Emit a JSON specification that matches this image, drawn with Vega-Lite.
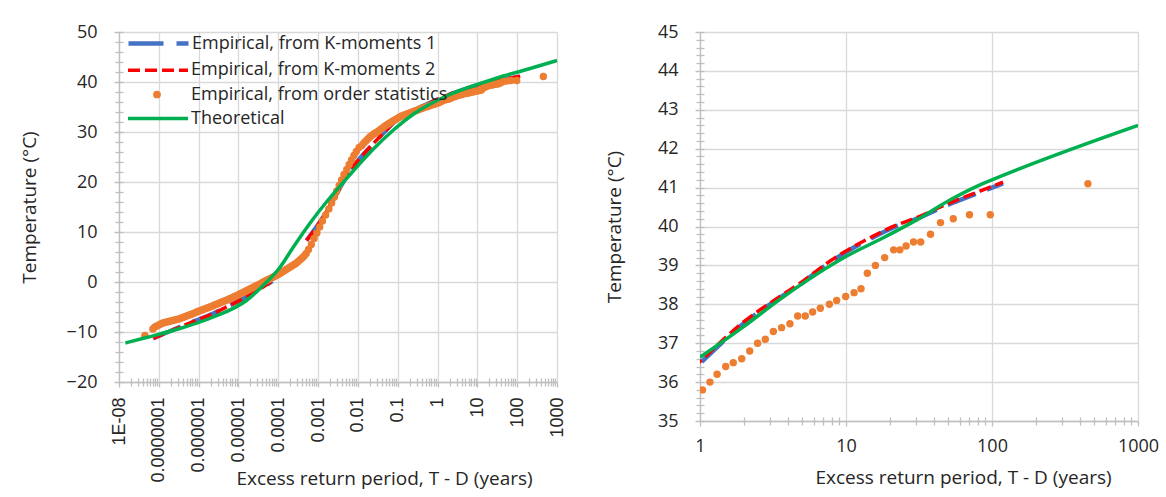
{
"$schema": "https://vega.github.io/schema/vega-lite/v6.json",
"background": "white",
"padding": {"left": 20, "top": 23, "right": 0, "bottom": 0},
"spacing": 39,
"config": {
  "font": "Open Sans",
  "view": {"stroke": null},
  "axis": {"domainColor": "#BFBFBF", "tickColor": "#BFBFBF", "gridColor": "#D9D9D9", "gridWidth": 1.3, "domainWidth": 1.3, "tickWidth": 1.3, "labelFont": "Open Sans", "labelFontSize": 18, "labelColor": "#262626", "titleFont": "Open Sans", "titleFontSize": 19, "titleFontWeight": "normal", "titleColor": "#262626", "labelFlush": false, "labelOverlap": false},
  "legend": {"labelFont": "Open Sans", "labelFontSize": 18, "labelColor": "#262626", "padding": 0, "title": null, "labelLimit": 500}
},
"datasets": {
  "orderStats": [
    {"x":4.47e-8,"y":-10.7},{"x":7.08e-8,"y":-9.4},{"x":7.94e-8,"y":-9.0},{"x":8.91e-8,"y":-8.8},{"x":1e-7,"y":-8.6},{"x":1.122e-7,"y":-8.4},{"x":1.259e-7,"y":-8.2},{"x":1.413e-7,"y":-8.1},{"x":1.585e-7,"y":-8.0},{"x":1.778e-7,"y":-7.9},{"x":1.995e-7,"y":-7.8},{"x":2.239e-7,"y":-7.7},{"x":2.512e-7,"y":-7.6},{"x":2.818e-7,"y":-7.5},{"x":3.162e-7,"y":-7.4},{"x":3.548e-7,"y":-7.25},{"x":3.981e-7,"y":-7.1},{"x":4.467e-7,"y":-6.95},{"x":5.012e-7,"y":-6.8},{"x":5.623e-7,"y":-6.65},{"x":6.31e-7,"y":-6.5},{"x":7.079e-7,"y":-6.35},{"x":7.943e-7,"y":-6.2},{"x":8.913e-7,"y":-6.0},
    {"x":1e-6,"y":-5.85},{"x":1.122e-6,"y":-5.7},{"x":1.259e-6,"y":-5.55},{"x":1.413e-6,"y":-5.4},{"x":1.585e-6,"y":-5.25},{"x":1.778e-6,"y":-5.1},{"x":1.995e-6,"y":-4.95},{"x":2.239e-6,"y":-4.8},{"x":2.512e-6,"y":-4.6},{"x":2.818e-6,"y":-4.45},{"x":3.162e-6,"y":-4.3},{"x":3.548e-6,"y":-4.1},{"x":3.981e-6,"y":-3.95},{"x":4.467e-6,"y":-3.8},{"x":5.012e-6,"y":-3.65},{"x":5.623e-6,"y":-3.45},{"x":6.31e-6,"y":-3.3},{"x":7.079e-6,"y":-3.1},{"x":7.943e-6,"y":-2.9},{"x":8.913e-6,"y":-2.75},
    {"x":1e-5,"y":-2.55},{"x":1.122e-5,"y":-2.35},{"x":1.259e-5,"y":-2.15},{"x":1.413e-5,"y":-1.95},{"x":1.585e-5,"y":-1.75},{"x":1.778e-5,"y":-1.55},{"x":1.995e-5,"y":-1.35},{"x":2.239e-5,"y":-1.15},{"x":2.512e-5,"y":-0.95},{"x":2.818e-5,"y":-0.75},{"x":3.162e-5,"y":-0.55},{"x":3.548e-5,"y":-0.35},{"x":3.981e-5,"y":-0.1},{"x":4.467e-5,"y":0.1},{"x":5.012e-5,"y":0.3},{"x":5.623e-5,"y":0.5},{"x":6.31e-5,"y":0.7},{"x":7.079e-5,"y":0.9},{"x":7.943e-5,"y":1.1},{"x":8.913e-5,"y":1.3},
    {"x":1e-4,"y":1.5},{"x":1.122e-4,"y":1.75},{"x":1.259e-4,"y":2.0},{"x":1.413e-4,"y":2.25},{"x":1.585e-4,"y":2.5},{"x":1.778e-4,"y":2.75},{"x":1.995e-4,"y":3.0},{"x":2.239e-4,"y":3.25},{"x":2.512e-4,"y":3.5},{"x":2.818e-4,"y":3.75},{"x":3.162e-4,"y":4.1},{"x":3.548e-4,"y":4.45},{"x":3.981e-4,"y":4.8},{"x":4.467e-4,"y":5.2},{"x":5.012e-4,"y":5.7},
    {"x":5.754e-4,"y":6.5},{"x":6.761e-4,"y":7.5},{"x":7.943e-4,"y":8.7},{"x":9.333e-4,"y":9.8},{"x":1.096e-3,"y":11.0},{"x":1.288e-3,"y":12.2},{"x":1.549e-3,"y":13.4},{"x":1.862e-3,"y":14.6},{"x":2.188e-3,"y":15.8},{"x":2.57e-3,"y":17.0},{"x":2.951e-3,"y":18.2},{"x":3.388e-3,"y":19.3},{"x":3.89e-3,"y":20.4},{"x":4.467e-3,"y":21.5},{"x":5.248e-3,"y":22.5},{"x":6.026e-3,"y":23.5},{"x":6.918e-3,"y":24.4},{"x":7.943e-3,"y":25.3},{"x":9.12e-3,"y":26.1},
    {"x":1.072e-2,"y":26.9},{"x":1.259e-2,"y":27.3},{"x":1.413e-2,"y":27.8},{"x":1.585e-2,"y":28.2},{"x":1.778e-2,"y":28.6},{"x":1.995e-2,"y":29.0},{"x":2.239e-2,"y":29.3},{"x":2.512e-2,"y":29.6},{"x":2.818e-2,"y":29.85},{"x":3.162e-2,"y":30.1},{"x":3.548e-2,"y":30.4},{"x":3.981e-2,"y":30.7},{"x":4.467e-2,"y":31.0},{"x":5.012e-2,"y":31.3},{"x":5.623e-2,"y":31.55},{"x":6.31e-2,"y":31.8},{"x":7.079e-2,"y":32.05},{"x":7.943e-2,"y":32.3},{"x":8.913e-2,"y":32.5},
    {"x":0.1,"y":32.75},{"x":0.1122,"y":33.0},{"x":0.1259,"y":33.2},{"x":0.1413,"y":33.35},{"x":0.1585,"y":33.5},{"x":0.1778,"y":33.65},{"x":0.1995,"y":33.8},{"x":0.2239,"y":33.95},{"x":0.2512,"y":34.1},{"x":0.2818,"y":34.25},{"x":0.3162,"y":34.4},{"x":0.3548,"y":34.55},{"x":0.3981,"y":34.7},{"x":0.4467,"y":34.85},{"x":0.5012,"y":35.0},{"x":0.5623,"y":35.1},{"x":0.631,"y":35.25},{"x":0.7079,"y":35.4},{"x":0.7943,"y":35.5},{"x":0.8913,"y":35.65},
    {"x":1.04,"y":35.8},{"x":1.17,"y":36.0},{"x":1.31,"y":36.2},{"x":1.5,"y":36.4},{"x":1.69,"y":36.5},{"x":1.93,"y":36.6},{"x":2.19,"y":36.8},{"x":2.48,"y":37.0},{"x":2.8,"y":37.1},{"x":3.18,"y":37.3},{"x":3.62,"y":37.4},{"x":4.13,"y":37.5},{"x":4.67,"y":37.7},{"x":5.26,"y":37.7},{"x":5.91,"y":37.8},{"x":6.67,"y":37.9},{"x":7.69,"y":38.0},{"x":8.63,"y":38.1},{"x":9.95,"y":38.2},{"x":11.35,"y":38.3},{"x":12.67,"y":38.4},{"x":14.0,"y":38.8},{"x":15.9,"y":39.0},{"x":18.4,"y":39.2},{"x":21.2,"y":39.4},{"x":23.4,"y":39.4},{"x":25.8,"y":39.5},{"x":29.0,"y":39.6},{"x":32.5,"y":39.6},{"x":37.9,"y":39.8},{"x":44.4,"y":40.1},{"x":54.3,"y":40.2},{"x":70.1,"y":40.3},{"x":97.3,"y":40.3},{"x":454,"y":41.1}
  ],
  "kMoments1": [
    {"part":"a","x":7.24e-8,"y":-11.3},{"part":"a","x":1.585e-7,"y":-10.1},{"part":"a","x":3.39e-7,"y":-9.0},{"part":"a","x":1e-6,"y":-7.5},{"part":"a","x":2.34e-6,"y":-6.3},{"part":"a","x":6.31e-6,"y":-4.6},{"part":"a","x":1.585e-5,"y":-3.0},{"part":"a","x":4.17e-5,"y":-1.0},{"part":"a","x":7.08e-5,"y":0.2},
    {"part":"b","x":5.13e-4,"y":8.3},{"part":"b","x":1.349e-3,"y":13.0},{"part":"b","x":2.951e-3,"y":17.7},{"part":"b","x":5.754e-3,"y":21.7},{"part":"b","x":1.122e-2,"y":24.7},{"part":"b","x":2.455e-2,"y":27.7},{"part":"b","x":4.365e-2,"y":29.8},{"part":"b","x":0.1,"y":32.6},{"part":"b","x":0.3162,"y":34.7},{"part":"b","x":1,"y":36.48},{"part":"b","x":1.98,"y":37.5},{"part":"b","x":3.53,"y":38.17},{"part":"b","x":5.1,"y":38.57},{"part":"b","x":7.36,"y":39.02},{"part":"b","x":10,"y":39.34},{"part":"b","x":15.5,"y":39.73},{"part":"b","x":21.3,"y":39.98},{"part":"b","x":30.5,"y":40.2},{"part":"b","x":51.5,"y":40.58},{"part":"b","x":82.7,"y":40.88},{"part":"b","x":119,"y":41.11}
  ],
  "kMoments2": [
    {"part":"a","x":7.24e-8,"y":-11.3},{"part":"a","x":1.585e-7,"y":-10.1},{"part":"a","x":3.39e-7,"y":-9.0},{"part":"a","x":1e-6,"y":-7.5},{"part":"a","x":2.34e-6,"y":-6.3},{"part":"a","x":6.31e-6,"y":-4.6},{"part":"a","x":1.585e-5,"y":-3.0},{"part":"a","x":4.17e-5,"y":-1.0},{"part":"a","x":7.08e-5,"y":0.2},
    {"part":"b","x":5.13e-4,"y":8.3},{"part":"b","x":1.349e-3,"y":13.0},{"part":"b","x":2.951e-3,"y":17.7},{"part":"b","x":5.754e-3,"y":21.7},{"part":"b","x":1.122e-2,"y":24.7},{"part":"b","x":2.455e-2,"y":27.7},{"part":"b","x":4.365e-2,"y":29.8},{"part":"b","x":0.1,"y":32.6},{"part":"b","x":0.3162,"y":34.7},{"part":"b","x":1,"y":36.53},{"part":"b","x":1.98,"y":37.54},{"part":"b","x":3.53,"y":38.2},{"part":"b","x":5.1,"y":38.6},{"part":"b","x":7.36,"y":39.05},{"part":"b","x":10,"y":39.37},{"part":"b","x":15.5,"y":39.76},{"part":"b","x":21.3,"y":40.01},{"part":"b","x":30.5,"y":40.23},{"part":"b","x":51.5,"y":40.61},{"part":"b","x":82.7,"y":40.91},{"part":"b","x":119,"y":41.14}
  ],
  "theoreticalLeft": [
    {"x":1.445e-8,"y":-12.2},{"x":4.9e-8,"y":-11.1},{"x":3.39e-7,"y":-9.3},{"x":2.34e-6,"y":-7.0},{"x":1.585e-5,"y":-3.7},{"x":4.17e-5,"y":-0.7},{"x":1.096e-4,"y":2.9},{"x":2.4e-4,"y":7.0},{"x":6.31e-4,"y":11.8},{"x":1.62e-3,"y":16.0},{"x":4.27e-3,"y":19.9},{"x":9.33e-3,"y":23.0},{"x":2.45e-2,"y":26.6},{"x":7.08e-2,"y":30.1},{"x":0.251,"y":33.6},{"x":2.04,"y":37.5},{"x":14.1,"y":39.9},{"x":44.7,"y":41.2},{"x":141,"y":42.3},{"x":1000,"y":44.3}
  ],
  "theoreticalRight": [
    {"x":1,"y":36.64},{"x":1.98,"y":37.42},{"x":3.53,"y":38.13},{"x":10,"y":39.23},{"x":18,"y":39.71},{"x":30.5,"y":40.17},{"x":51.5,"y":40.68},{"x":82.8,"y":41.07},{"x":100,"y":41.2},{"x":1000,"y":42.6}
  ]
},
"hconcat": [
  {
    "width": 438,
    "height": 350,
    "resolve": {"axis": {"x": "independent", "y": "independent"}, "scale": {"color": "independent"}, "legend": {"color": "independent"}},
    "layer": [
      {
        "data": {"name": "kMoments1"},
        "mark": {"type": "line", "strokeWidth": 4.5, "strokeDash": [30, 12], "interpolate": "monotone"},
        "encoding": {
          "x": {"field": "x", "type": "quantitative", "scale": {"type": "log", "domain": [1e-8, 1000], "nice": false},
            "axis": {"orient": "bottom", "values": [1e-8, 1e-7, 1e-6, 1e-5, 1e-4, 0.001, 0.01, 0.1, 1, 10, 100, 1000], "grid": true, "tickSize": 5, "labelAngle": -90, "labelFont": "Liberation Sans", "labelFontSize": 18, "labelPadding": 10, "labelExpr": "datum.value < 5e-8 ? '1E-08' : format(datum.value, '.' + max(0, -round(log(datum.value) / LN10)) + 'f')", "title": "Excess return period, T - D (years)", "titlePadding": -13, "titleX": 265, "titleAlign": "center"}},
          "y": {"field": "y", "type": "quantitative", "scale": {"domain": [-20, 50], "nice": false, "zero": false},
            "axis": {"orient": "left", "values": [-20, -10, 0, 10, 20, 30, 40, 50], "grid": true, "tickSize": 5, "labelPadding": 17, "title": "Temperature (°C)", "titlePadding": 27}},
          "detail": {"field": "part"},
          "color": {"datum": "Empirical, from K-moments 1", "scale": {"domain": ["Empirical, from K-moments 1"], "range": ["#4472C4"]},
            "legend": {"orient": "none", "legendX": 7, "legendY": 1.6, "clipHeight": 20, "symbolType": "stroke", "symbolSize": 3600, "symbolDash": [35, 13], "symbolStrokeWidth": 4.5, "labelOffset": 1}}
        }
      },
      {
        "data": {"name": "kMoments2"},
        "mark": {"type": "line", "strokeWidth": 3.5, "strokeDash": [12, 5], "interpolate": "monotone"},
        "encoding": {
          "x": {"field": "x", "type": "quantitative", "scale": {"type": "log", "domain": [1e-8, 1000], "nice": false},
            "axis": {"orient": "bottom", "values": [2e-8,3e-8,4e-8,5e-8,6e-8,7e-8,8e-8,9e-8,2e-7,3e-7,4e-7,5e-7,6e-7,7e-7,8e-7,9e-7,2e-6,3e-6,4e-6,5e-6,6e-6,7e-6,8e-6,9e-6,2e-5,3e-5,4e-5,5e-5,6e-5,7e-5,8e-5,9e-5,2e-4,3e-4,4e-4,5e-4,6e-4,7e-4,8e-4,9e-4,0.002,0.003,0.004,0.005,0.006,0.007,0.008,0.009,0.02,0.03,0.04,0.05,0.06,0.07,0.08,0.09,0.2,0.3,0.4,0.5,0.6,0.7,0.8,0.9,2,3,4,5,6,7,8,9,20,30,40,50,60,70,80,90,200,300,400,500,600,700,800,900], "grid": false, "labels": false, "domain": false, "tickSize": 4, "title": null}},
          "y": {"field": "y", "type": "quantitative", "scale": {"domain": [-20, 50], "nice": false, "zero": false},
            "axis": {"orient": "left", "values": [-20,-18,-16,-14,-12,-10,-8,-6,-4,-2,0,2,4,6,8,10,12,14,16,18,20,22,24,26,28,30,32,34,36,38,40,42,44,46,48,50], "grid": false, "labels": false, "domain": false, "tickSize": 4, "title": null}},
          "detail": {"field": "part"},
          "color": {"datum": "Empirical, from K-moments 2", "scale": {"domain": ["Empirical, from K-moments 2"], "range": ["#FF0000"]},
            "legend": {"orient": "none", "legendX": 7, "legendY": 28.3, "clipHeight": 20, "symbolType": "stroke", "symbolSize": 3600, "symbolDash": [12, 5], "symbolStrokeWidth": 3.5, "labelOffset": 1}}
        }
      },
      {
        "data": {"name": "orderStats"},
        "mark": {"type": "circle", "size": 55, "opacity": 1},
        "encoding": {
          "x": {"field": "x", "type": "quantitative", "scale": {"type": "log", "domain": [1e-8, 1000], "nice": false},
            "axis": {"orient": "bottom", "values": [2e-8,3e-8,4e-8,5e-8,6e-8,7e-8,8e-8,9e-8,2e-7,3e-7,4e-7,5e-7,6e-7,7e-7,8e-7,9e-7,2e-6,3e-6,4e-6,5e-6,6e-6,7e-6,8e-6,9e-6,2e-5,3e-5,4e-5,5e-5,6e-5,7e-5,8e-5,9e-5,2e-4,3e-4,4e-4,5e-4,6e-4,7e-4,8e-4,9e-4,0.002,0.003,0.004,0.005,0.006,0.007,0.008,0.009,0.02,0.03,0.04,0.05,0.06,0.07,0.08,0.09,0.2,0.3,0.4,0.5,0.6,0.7,0.8,0.9,2,3,4,5,6,7,8,9,20,30,40,50,60,70,80,90,200,300,400,500,600,700,800,900], "grid": false, "labels": false, "domain": false, "tickSize": -4, "title": null}},
          "y": {"field": "y", "type": "quantitative", "scale": {"domain": [-20, 50], "nice": false, "zero": false},
            "axis": {"orient": "left", "values": [-20,-18,-16,-14,-12,-10,-8,-6,-4,-2,0,2,4,6,8,10,12,14,16,18,20,22,24,26,28,30,32,34,36,38,40,42,44,46,48,50], "grid": false, "labels": false, "domain": false, "tickSize": -4, "title": null}},
          "color": {"datum": "Empirical, from order statistics", "scale": {"domain": ["Empirical, from order statistics"], "range": ["#ED7D31"]},
            "legend": {"orient": "none", "legendX": 29, "legendY": 53.5, "symbolType": "circle", "symbolSize": 60, "symbolStrokeWidth": 0, "labelOffset": 25}}
        }
      },
      {
        "data": {"name": "theoreticalLeft"},
        "mark": {"type": "line", "strokeWidth": 3.5, "interpolate": "monotone"},
        "encoding": {
          "x": {"field": "x", "type": "quantitative", "scale": {"type": "log", "domain": [1e-8, 1000], "nice": false}, "axis": null},
          "y": {"field": "y", "type": "quantitative", "scale": {"domain": [-20, 50], "nice": false, "zero": false}, "axis": null},
          "color": {"datum": "Theoretical", "scale": {"domain": ["Theoretical"], "range": ["#00B050"]},
            "legend": {"orient": "none", "legendX": 7, "legendY": 76.6, "clipHeight": 20, "symbolType": "stroke", "symbolSize": 3600, "symbolStrokeWidth": 3.5, "labelOffset": 1}}
        }
      }
    ]
  },
  {
    "width": 438,
    "height": 389,
    "resolve": {"axis": {"x": "independent", "y": "independent"}},
    "layer": [
      {
        "data": {"name": "kMoments1"},
        "mark": {"type": "line", "strokeWidth": 4.5, "strokeDash": [30, 12], "interpolate": "monotone", "color": "#4472C4", "clip": true},
        "encoding": {
          "x": {"field": "x", "type": "quantitative", "scale": {"type": "log", "domain": [1, 1000], "nice": false},
            "axis": {"orient": "bottom", "values": [1, 10, 100, 1000], "format": ".0f", "grid": true, "tickSize": 5, "labelPadding": 11, "title": "Excess return period, T - D (years)", "titlePadding": 13, "titleX": 263, "titleAlign": "center"}},
          "y": {"field": "y", "type": "quantitative", "scale": {"domain": [35, 45], "nice": false, "zero": false},
            "axis": {"orient": "left", "values": [35, 36, 37, 38, 39, 40, 41, 42, 43, 44, 45], "grid": true, "tickSize": 5, "labelPadding": 17, "title": "Temperature (°C)", "titlePadding": 33}},
          "detail": {"field": "part"}
        }
      },
      {
        "data": {"name": "kMoments2"},
        "mark": {"type": "line", "strokeWidth": 3.5, "strokeDash": [12, 5], "interpolate": "monotone", "color": "#FF0000", "clip": true},
        "encoding": {
          "x": {"field": "x", "type": "quantitative", "scale": {"type": "log", "domain": [1, 1000], "nice": false},
            "axis": {"orient": "bottom", "values": [2,3,4,5,6,7,8,9,20,30,40,50,60,70,80,90,200,300,400,500,600,700,800,900], "grid": false, "labels": false, "domain": false, "tickSize": 4, "title": null}},
          "y": {"field": "y", "type": "quantitative", "scale": {"domain": [35, 45], "nice": false, "zero": false},
            "axis": {"orient": "left", "values": [35,35.2,35.4,35.6,35.8,36,36.2,36.4,36.6,36.8,37,37.2,37.4,37.6,37.8,38,38.2,38.4,38.6,38.8,39,39.2,39.4,39.6,39.8,40,40.2,40.4,40.6,40.8,41,41.2,41.4,41.6,41.8,42,42.2,42.4,42.6,42.8,43,43.2,43.4,43.6,43.8,44,44.2,44.4,44.6,44.8,45], "grid": false, "labels": false, "domain": false, "tickSize": 4, "title": null}},
          "detail": {"field": "part"}
        }
      },
      {
        "data": {"name": "orderStats"},
        "mark": {"type": "circle", "size": 55, "opacity": 1, "color": "#ED7D31", "clip": true},
        "encoding": {
          "x": {"field": "x", "type": "quantitative", "scale": {"type": "log", "domain": [1, 1000], "nice": false},
            "axis": {"orient": "bottom", "values": [2,3,4,5,6,7,8,9,20,30,40,50,60,70,80,90,200,300,400,500,600,700,800,900], "grid": false, "labels": false, "domain": false, "tickSize": -4, "title": null}},
          "y": {"field": "y", "type": "quantitative", "scale": {"domain": [35, 45], "nice": false, "zero": false},
            "axis": {"orient": "left", "values": [35,35.2,35.4,35.6,35.8,36,36.2,36.4,36.6,36.8,37,37.2,37.4,37.6,37.8,38,38.2,38.4,38.6,38.8,39,39.2,39.4,39.6,39.8,40,40.2,40.4,40.6,40.8,41,41.2,41.4,41.6,41.8,42,42.2,42.4,42.6,42.8,43,43.2,43.4,43.6,43.8,44,44.2,44.4,44.6,44.8,45], "grid": false, "labels": false, "domain": false, "tickSize": -4, "title": null}}
        }
      },
      {
        "data": {"name": "theoreticalRight"},
        "mark": {"type": "line", "strokeWidth": 3.5, "interpolate": "monotone", "color": "#00B050", "clip": true},
        "encoding": {
          "x": {"field": "x", "type": "quantitative", "scale": {"type": "log", "domain": [1, 1000], "nice": false}, "axis": null},
          "y": {"field": "y", "type": "quantitative", "scale": {"domain": [35, 45], "nice": false, "zero": false}, "axis": null}
        }
      }
    ]
  }
]
}
